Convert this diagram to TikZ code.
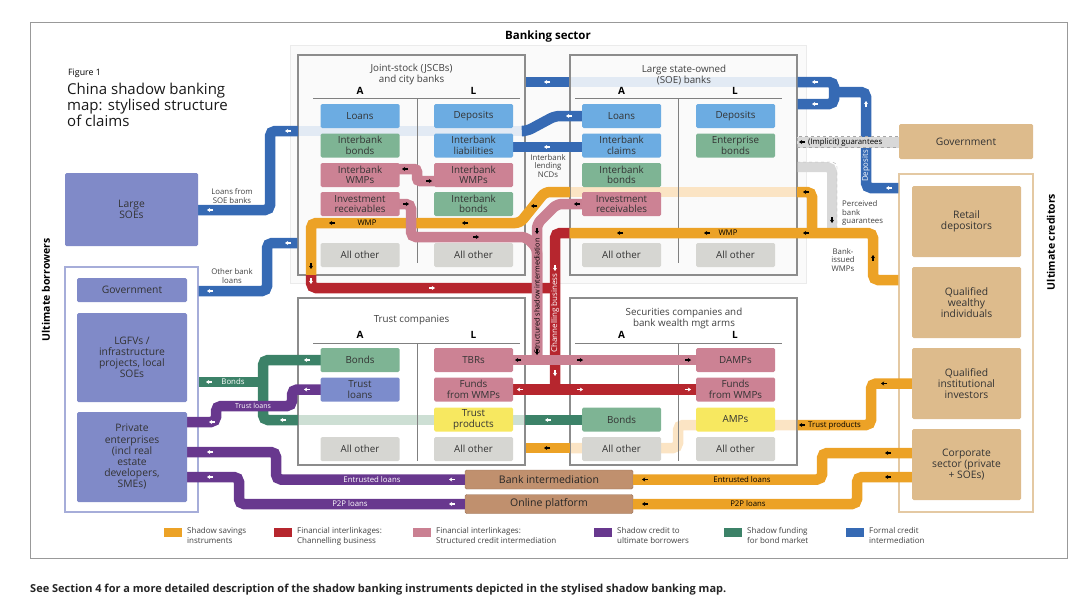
\documentclass[tikz,border=0pt]{standalone}
\usepackage{fontspec}
\setmainfont{Open Sans}
\usetikzlibrary{arrows.meta}

\definecolor{savorange}{RGB}{236,162,38}
\definecolor{chanred}{RGB}{182,38,46}
\definecolor{strpink}{RGB}{202,128,146}
\definecolor{credpurple}{RGB}{104,56,142}
\definecolor{bondgreen}{RGB}{60,130,104}
\definecolor{formblue}{RGB}{54,106,180}
\definecolor{guargrey}{RGB}{216,216,216}
\definecolor{cellblue}{RGB}{108,172,226}
\definecolor{cellgreen}{RGB}{126,180,148}
\definecolor{cellpink}{RGB}{204,130,148}
\definecolor{cellgrey}{RGB}{214,214,210}
\definecolor{cellyellow}{RGB}{247,232,96}
\definecolor{cellviolet}{RGB}{124,140,204}
\definecolor{borrower}{RGB}{128,138,200}
\definecolor{creditor}{RGB}{221,187,140}
\definecolor{platform}{RGB}{192,144,110}
\definecolor{paleblue}{RGB}{226,234,244}
\definecolor{paleorange}{RGB}{251,228,196}
\definecolor{palegreen}{RGB}{205,223,212}

\tikzset{
  cell/.style={rounded corners=1.5pt, minimum width=79pt, minimum height=24pt, inner sep=0pt,
    align=center, font=\fontsize{9.8}{10.4}\selectfont, text=black!80},
  bluecell/.style={cell, fill=cellblue},
  greencell/.style={cell, fill=cellgreen},
  pinkcell/.style={cell, fill=cellpink},
  greycell/.style={cell, fill=cellgrey},
  yellowcell/.style={cell, fill=cellyellow},
  violetcell/.style={cell, fill=cellviolet},
  borbox/.style={rounded corners=1.5pt, fill=borrower, inner sep=0pt, align=center, text=black!80,
    font=\fontsize{10.3}{11.2}\selectfont},
  credbox/.style={rounded corners=1.5pt, fill=creditor, inner sep=0pt, align=center, text=black!80,
    font=\fontsize{10.3}{11.2}\selectfont},
  platbox/.style={rounded corners=1.5pt, fill=platform, draw=platform!80!black, minimum width=168pt,
    minimum height=19pt, inner sep=0pt, text=black!85, font=\fontsize{10.5}{11}\selectfont},
  bankfr/.style={draw=black!45, line width=1.2pt, minimum width=227pt, inner sep=0pt},
  boxtitle/.style={align=center, font=\fontsize{9.8}{11}\selectfont, text=black!75},
  colhead/.style={font=\bfseries\fontsize{10}{11}\selectfont},
  rule/.style={draw=black!50, line width=0.9pt},
  flow/.style={line width=10.5pt, rounded corners=5pt},
  paleband/.style={line width=10.5pt, rounded corners=5pt},
  flowtip/.style={line width=1.1pt, -{Stealth[length=3.2pt,width=4.2pt]}},
  flowlbl/.style={font=\fontsize{7.8}{8}\selectfont, inner sep=0pt},
  sidelbl/.style={font=\fontsize{7.8}{8.8}\selectfont, align=center, text=black!75, inner sep=0pt},
  legtext/.style={font=\fontsize{8}{10}\selectfont, align=left, text=black!75, inner sep=0pt},
}

\newcommand{\tipL}[2][white]{\draw[flowtip,#1] (#2) ++(3,0) -- ++(-6,0);}
\newcommand{\tipR}[2][white]{\draw[flowtip,#1] (#2) ++(-3,0) -- ++(6,0);}
\newcommand{\tipU}[2][white]{\draw[flowtip,#1] (#2) ++(0,3) -- ++(0,-6);}
\newcommand{\tipD}[2][white]{\draw[flowtip,#1] (#2) ++(0,-3) -- ++(0,6);}

\begin{document}
\begin{tikzpicture}[x=1pt, y=-1pt, font=\fontsize{9}{10.3}\selectfont]
    \useasboundingbox (0,0) rectangle (1080,613);

    % Frame, titles
    \node[draw=black!40, line width=1pt, minimum width=1037pt, minimum height=536pt, inner sep=0pt] (outer) at (548.5,290) {};
    \node[font=\bfseries\fontsize{11.5}{13}\selectfont] (banktitle) at (548,37) {Banking sector};
    \node[anchor=west, font=\fontsize{8.8}{10}\selectfont, inner sep=0pt] (fignum) at (68,73) {Figure 1};
    \node[anchor=north west, align=left, inner sep=0pt, font=\fontsize{15}{14.7}\selectfont, text=black!90] (title) at (67,83)
        {China shadow banking\\map: stylised structure\\of claims};
    \node[rotate=90, font=\bfseries\fontsize{10.5}{12}\selectfont] (ubor) at (46,290) {Ultimate borrowers};
    \node[rotate=90, font=\bfseries\fontsize{10.5}{12}\selectfont] (ucred) at (1051,242) {Ultimate creditors};

    % Banking sector panel and pale pass-through bands
    \node[draw=black!8, fill=black!2, minimum width=516pt, minimum height=238pt, inner sep=0pt] (bankpanel) at (548,164) {};
    \draw[paleband, paleblue] (298,131) -- (525,131);
    \draw[paleband, paleblue] (570,82) -- (797,82);
    \draw[paleband, paleorange] (570,192) -- (797,192);
    \draw[paleband, palegreen] (298,420) -- (525,420);
    \draw[paleband, paleorange] (797,425) -- (678,425) -- (678,448) -- (570,448);

    % Institution frames
    \node[bankfr, minimum height=220pt] (jscb) at (411.5,165) {};
    \node[bankfr, minimum height=220pt] (soe) at (683.5,165) {};
    \node[bankfr, minimum height=167pt] (trust) at (411.5,381.5) {};
    \node[bankfr, minimum height=167pt] (sec) at (683.5,381.5) {};
    \node[boxtitle] (jscb-t) at (411.5,74) {Joint-stock (JSCBs)\\and city banks};
    \node[boxtitle] (soe-t) at (684,75) {Large state-owned\\(SOE) banks};
    \node[boxtitle] (trust-t) at (411.5,320) {Trust companies};
    \node[boxtitle] (sec-t) at (684,318) {Securities companies and\\bank wealth mgt arms};
    \foreach \fx/\fy/\fname in {360/91/jscb, 621.5/91/soe, 360/335/trust, 621.5/335/sec} {
        \node[colhead] (\fname-a) at (\fx,\fy) {A};
        \node[colhead] (\fname-l) at (\fx+113.5,\fy) {L};
    }
    \draw[rule] (313,98) -- (520,98);  \draw[rule] (417,98) -- (417,263);
    \draw[rule] (575,98) -- (782,98);  \draw[rule] (678,98) -- (678,263);
    \draw[rule] (313,343) -- (520,343); \draw[rule] (417,343) -- (417,461);
    \draw[rule] (575,343) -- (782,343); \draw[rule] (678,343) -- (678,461);

    % Borrower and creditor frames
    \node[draw=borrower!70, line width=1.3pt, minimum width=133pt, minimum height=245pt, inner sep=0pt] (borfr) at (131.5,389.5) {};
    \node[draw=creditor!80, line width=1.3pt, minimum width=134pt, minimum height=338pt, inner sep=0pt] (credfr) at (966,343) {};

    % Bottom platforms
    \node[platbox] (bankint) at (549,479.5) {Bank intermediation};
    \node[platbox] (online) at (549,504) {Online platform};

    % Formal credit intermediation
    \draw[flow, formblue] (621.5,116) -- (555,116) -- (527,131) -- (525,131);
    \draw[flow, formblue] (298,131) -- (270,131) -- (270,210) -- (198,210);
    \draw[flow, formblue] (jscb.west |- 0,243) -- (267,243) -- (267,291) -- (borfr.east |- 0,291);
    \draw[flow, formblue] (soe.west |- 0,82) -- (jscb.east |- 0,82);
    \draw[flow, formblue] (soe.east |- 0,82) -- (834,82) -- (834,104) -- (soe.east |- 0,104);
    \draw[flow, formblue] (834,92) -- (866,92) -- (866,188) -- (credfr.west |- 0,188);
    \draw[flow, formblue] (621.5,147) -- (474,147);

    % Guarantees
    \node[draw=black!35, dashed, fill=guargrey, minimum width=102pt, minimum height=11pt, inner sep=0pt] (implicit) at (848,142) {};
    \draw[flow, guargrey, line width=10pt] (soe.east |- 0,167) -- (832,167) -- (832,230);
    \draw[black!35, dashed, thin, rounded corners=5pt] (797,162) -- (837,162) -- (837,230);

    % Shadow savings instruments
    \draw[flow, savorange] (311,275) -- (311,223) -- (520,223) -- (545,192) -- (570,192);
    \draw[flow, savorange] (797,192) -- (812,192) -- (812,233);
    \draw[flow, savorange] (credfr.west |- 0,280) -- (873,280) -- (873,233) -- (soe.west |- 0,233);
    \draw[flow, savorange] (966,383.5) -- (871,383.5) -- (871,425) -- (sec.east |- 0,425);
    \draw[flow, savorange] (570,448) -- (trust.east |- 0,448);
    \draw[flow, savorange] (966,453) -- (822,453) -- (822,479.5) -- (bankint.east);
    \draw[flow, savorange] (966,477) -- (857,477) -- (857,504) -- (online.east);

    % Channelling business
    \draw[flow, chanred] (311,275) -- (311,288) -- (555,288);
    \draw[flow, chanred] (soe.west |- 0,233) -- (555,233) -- (555,389.5);
    \draw[flow, chanred] (474,389.5) -- (735.5,389.5);

    % Shadow funding for bond market
    \draw[flow, bondgreen] (360,360) -- (263,360) -- (263,420) -- (298,420);
    \draw[flow, bondgreen] (263,382) -- (borfr.east |- 0,382);
    \draw[flow, bondgreen] (525,420) -- (621.5,420);

    % Shadow credit to ultimate borrowers
    \draw[flow, credpurple] (360,389.5) -- (292,389.5) -- (292,406) -- (216,406) -- (216,422) -- (132,422);
    \draw[flow, credpurple] (bankint.west) -- (276,479.5) -- (276,452) -- (132,452);
    \draw[flow, credpurple] (online.west) -- (239,504) -- (239,477) -- (132,477);

    % Structured credit intermediation
    \draw[flow, strpink, rounded corners=3pt] (360,169) -- (417,169) -- (417,181) -- (474,181);
    \draw[flow, strpink] (360,204) -- (411,204) -- (411,237) -- (526,237) -- (537,248) -- (537,360);
    \draw[flow, strpink] (621.5,204) -- (557,204) -- (537,224) -- (537,360);
    \draw[flow, strpink] (474,360) -- (735.5,360);

    % Balance-sheet cells
    \node[bluecell] (jsa-loans) at (360,116) {Loans};
    \node[greencell] (jsa-ibb) at (360,145.5) {Interbank\\bonds};
    \node[pinkcell] (jsa-iwmp) at (360,175) {Interbank\\WMPs};
    \node[pinkcell] (jsa-ir) at (360,204) {Investment\\receivables};
    \node[greycell] (jsa-other) at (360,255) {All other};
    \node[bluecell] (jsl-dep) at (473.5,116) {Deposits};
    \node[bluecell] (jsl-ibl) at (473.5,145.5) {Interbank\\liabilities};
    \node[pinkcell] (jsl-iwmp) at (473.5,175) {Interbank\\WMPs};
    \node[greencell] (jsl-ibb) at (473.5,204) {Interbank\\bonds};
    \node[greycell] (jsl-other) at (473.5,255) {All other};

    \node[bluecell] (soa-loans) at (621.5,116) {Loans};
    \node[bluecell] (soa-ibc) at (621.5,145.5) {Interbank\\claims};
    \node[greencell] (soa-ibb) at (621.5,175) {Interbank\\bonds};
    \node[pinkcell] (soa-ir) at (621.5,204) {Investment\\receivables};
    \node[greycell] (soa-other) at (621.5,255) {All other};
    \node[bluecell] (sol-dep) at (735.5,116) {Deposits};
    \node[greencell] (sol-eb) at (735.5,145.5) {Enterprise\\bonds};
    \node[greycell] (sol-other) at (735.5,255) {All other};

    \node[greencell] (tra-bonds) at (360,360) {Bonds};
    \node[violetcell] (tra-loans) at (360,389.5) {Trust\\loans};
    \node[greycell] (tra-other) at (360,449) {All other};
    \node[pinkcell] (trl-tbr) at (473.5,360) {TBRs};
    \node[pinkcell] (trl-fund) at (473.5,389.5) {Funds\\from WMPs};
    \node[yellowcell] (trl-prod) at (473.5,419.5) {Trust\\products};
    \node[greycell] (trl-other) at (473.5,449) {All other};

    \node[greencell] (sca-bonds) at (621.5,419.5) {Bonds};
    \node[greycell] (sca-other) at (621.5,449) {All other};
    \node[pinkcell] (scl-damp) at (735.5,360) {DAMPs};
    \node[pinkcell] (scl-fund) at (735.5,389.5) {Funds\\from WMPs};
    \node[yellowcell] (scl-amp) at (735.5,419.5) {AMPs};
    \node[greycell] (scl-other) at (735.5,449) {All other};

    % Ultimate borrowers
    \node[borbox, minimum width=133pt, minimum height=73pt] (soes) at (131.5,209.5) {Large\\SOEs};
    \node[borbox, minimum width=110pt, minimum height=24pt] (bgov) at (132,290) {Government};
    \node[borbox, minimum width=110pt, minimum height=89pt] (lgfv) at (132,357.5) {LGFVs /\\infrastructure\\projects, local\\SOEs};
    \node[borbox, minimum width=110pt, minimum height=90pt] (priv) at (132,457) {Private\\enterprises\\(incl real\\estate\\developers,\\SMEs)};

    % Ultimate creditors
    \node[credbox, minimum width=134pt, minimum height=35pt] (cgov) at (966,141.5) {Government};
    \node[credbox, minimum width=109pt, minimum height=71pt] (retail) at (966.5,221.5) {Retail\\depositors};
    \node[credbox, minimum width=109pt, minimum height=71pt] (qwi) at (966.5,302.5) {Qualified\\wealthy\\individuals};
    \node[credbox, minimum width=109pt, minimum height=71pt] (qii) at (966.5,383.5) {Qualified\\institutional\\investors};
    \node[credbox, minimum width=109pt, minimum height=71pt] (corp) at (966.5,464.5) {Corporate\\sector (private\\+ SOEs)};

    % Direction marks
    \tipL{288,131} \tipL{210,210} \tipL{569,116} \tipL{288,243} \tipL{210,291}
    \tipL{547,82} \tipL{815,82} \tipL{815,104} \tipU{866,104} \tipL{889,188} \tipL{547,147}
    \tipD{311,281} \tipR{432,288} \tipD{555,268} \tipD{555,373}
    \tipL{520,389.5} \tipR{580,389.5} \tipR{688,389.5}
    \tipL{307,360} \tipL{283,420} \tipL{548,420} \tipL{209,382}
    \tipL{307,389.5} \tipL{212,422} \tipL{210,452} \tipL{210,477} \tipL{452,479.5} \tipL{452,504}
    \tipL[black]{332,223} \tipL[black]{465,223} \tipL[black]{534,206} \tipL[black]{806,192}
    \tipL[black]{806,233} \tipL[black]{620,233} \tipL[black]{707,233} \tipU[black]{873,258} \tipD[black]{311,266}
    \tipL[black]{802,425} \tipL[black]{884,383.5} \tipL[black]{547,448}
    \tipL[black]{645,479.5} \tipL[black]{888,453} \tipL[black]{645,504} \tipL[black]{888,477}
    \tipL[black]{405,169} \tipR[black]{429,181} \tipR[black]{406,204} \tipR[black]{476,237}
    \tipD[black]{537,231} \tipL[black]{577,204} \tipL[black]{518,360} \tipD[black]{537,352}
    \tipR[black]{580,360} \tipR[black]{688,360}
    \tipL[black]{802,142} \tipD[black]{832,220}

    % Flow labels
    \node[flowlbl] (lbl-wmp1) at (367,223) {WMP};
    \node[flowlbl] (lbl-wmp2) at (728,233) {WMP};
    \node[flowlbl, text=white] (lbl-bonds) at (233,382) {Bonds};
    \node[flowlbl, text=white, font=\fontsize{7}{8}\selectfont] (lbl-tloans) at (253,406) {Trust loans};
    \node[flowlbl, text=white] (lbl-entp) at (372,479.5) {Entrusted loans};
    \node[flowlbl, text=white] (lbl-p2pp) at (350,504) {P2P loans};
    \node[flowlbl] (lbl-ento) at (742,479.5) {Entrusted loans};
    \node[flowlbl] (lbl-p2po) at (748,504) {P2P loans};
    \node[flowlbl, anchor=west] (lbl-tprod) at (808,425) {Trust products};
    \node[flowlbl, anchor=west] (lbl-impl) at (808,142) {(Implicit) guarantees};
    \node[flowlbl, text=white, rotate=90] (lbl-dep) at (866,166) {Deposits};
    \node[flowlbl, rotate=90, font=\fontsize{7.2}{8}\selectfont] (lbl-struct) at (537,296) {Structured shadow intermediation};
    \node[flowlbl, text=white, rotate=90, font=\fontsize{8}{9}\selectfont] (lbl-chan) at (555,313) {Channelling business};
    \node[sidelbl] (lbl-soeloans) at (232,196) {Loans from\\SOE banks};
    \node[sidelbl] (lbl-oth) at (232,276) {Other bank\\loans};
    \node[sidelbl] (lbl-ncd) at (548,166) {Interbank\\lending\\NCDs};
    \node[sidelbl, anchor=west, align=left] (lbl-perc) at (842,213) {Perceived\\bank\\guarantees};
    \node[sidelbl] (lbl-biw) at (843,260) {Bank-\\issued\\WMPs};

    % Legend
    \foreach \lx/\lcol/\ltxt [count=\li] in {164/savorange/{Shadow savings\\instruments},
        274/chanred/{Financial interlinkages:\\Channelling business},
        413/strpink/{Financial interlinkages:\\Structured credit intermediation},
        594/credpurple/{Shadow credit to\\ultimate borrowers},
        724/bondgreen/{Shadow funding\\for bond market},
        846/formblue/{Formal credit\\intermediation}} {
        \fill[\lcol] (\lx,528) rectangle (\lx+18,537);
        \node[legtext, anchor=north west] (leg\li) at (\lx+23,527) {\ltxt};
    }

    \node[anchor=west, inner sep=0pt, font=\bfseries\fontsize{11}{12}\selectfont, text=black!85] (footer) at (30,590)
        {See Section 4 for a more detailed description of the shadow banking instruments depicted in the stylised shadow banking map.};
\end{tikzpicture}
\end{document}
